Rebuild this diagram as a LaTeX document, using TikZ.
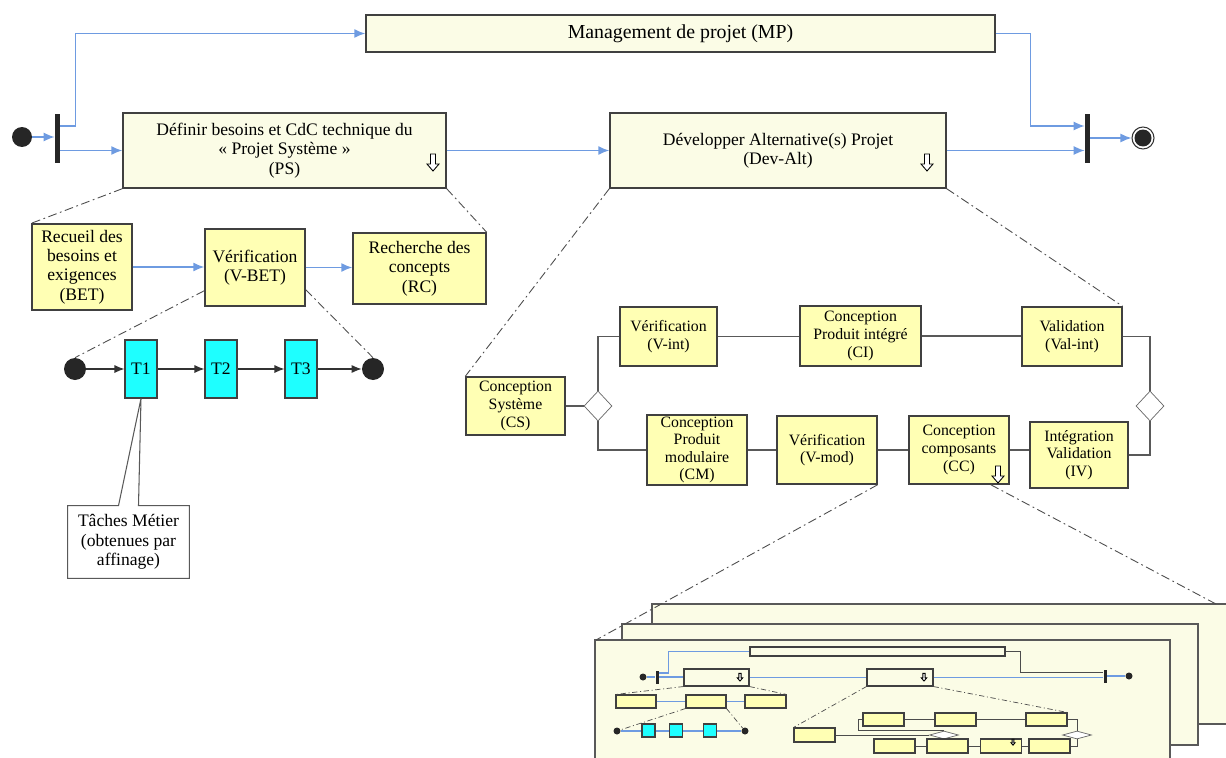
\documentclass[tikz,border=0pt]{standalone}
\usepackage{fontspec}
\setmainfont{Liberation Serif}
\usetikzlibrary{arrows.meta,shapes.geometric}
\definecolor{cream}{HTML}{FBFCE6}
\definecolor{paleyel}{HTML}{FFFFB4}
\definecolor{taskcyan}{HTML}{1EFFFF}
\definecolor{flowblue}{HTML}{6E9BE1}
\begin{document}
\begin{tikzpicture}[x=0.02cm, y=-0.02cm,
    sz/.style 2 args={minimum width=#1*0.02cm, minimum height=#2*0.02cm},
    txt/.style={align=center, inner sep=1pt, font=\fontsize{10}{11}\selectfont},
    small/.style={font=\fontsize{9}{10}\selectfont},
    big/.style={txt, draw=black!75, fill=cream, line width=0.8pt},
    act/.style={txt, draw=black!75, fill=paleyel, line width=0.8pt},
    task/.style={txt, draw=black!75, fill=taskcyan, line width=0.6pt, sz={32}{58}},
    bar/.style={fill=black!85, inner sep=0pt},
    dot/.style={circle, fill=black!85, inner sep=0pt, minimum size=0.42cm},
    choice/.style={diamond, draw=black!60, fill=white, inner sep=0pt, sz={28}{30}},
    flow/.style={draw=flowblue, line width=0.8pt, -{Latex[length=2.2mm, width=1.8mm]}},
    seq/.style={draw=black!80, line width=0.6pt, -{Latex[length=2mm, width=1.6mm]}},
    link/.style={draw=black!65, line width=0.6pt},
    zoomline/.style={draw=black!70, line width=0.5pt, dash pattern=on 5pt off 2pt on 1pt off 2pt},
    mini/.style={draw=black!75, line width=0.6pt, inner sep=0pt},
    mflow/.style={draw=flowblue, line width=0.6pt},
    mlink/.style={draw=black!70, line width=0.5pt},
    mzoom/.style={draw=black!70, line width=0.4pt, dash pattern=on 3pt off 1.5pt on 0.6pt off 1.5pt},
    dnarrow/.pic={\draw[fill=white, line width=0.5pt] (-2.5,-8) -- (2.5,-8) -- (2.5,2) -- (6,2) -- (0,9) -- (-6,2) -- (-2.5,2) -- cycle;}
  ]
  \useasboundingbox (0,0) rectangle (1226,757);
  \clip (0,0) rectangle (1226,757);

  \node[dot, minimum size=0.4cm] (st) at (22,137) {};
  \node[bar, sz={5}{49}] (b1) at (57.5,138.5) {};
  \node[big, sz={629}{37}, font=\fontsize{11.3}{12}\selectfont] (MP) at (680.5,33.5) {Management de projet (MP)};
  \node[big, sz={323}{75}] (PS) at (284.5,150.5) {Définir besoins et CdC technique du\\« Projet Système »\\(PS)};
  \node[big, sz={336}{75}] (Dev) at (778,150.5) {Développer Alternative(s) Projet\\(Dev-Alt)};
  \node[bar, sz={5}{49}] (b2) at (1087.5,138.5) {};
  \node[circle, draw=black!80, line width=0.6pt, minimum size=0.44cm, inner sep=0pt] (en) at (1143,138) {};
  \node[dot, minimum size=0.34cm] at (en) {};
  \pic at (433,162) {dnarrow};
  \pic at (927,162) {dnarrow};

  \draw[flow] (st.east) -- (st.east -| b1.west);
  \draw[flow] (b1.east |- PS) -- (PS.west);
  \draw[flow] ([yshift=0.25cm]b1.east) -- ++(15,0) |- (MP.west);
  \draw[flow] (PS.east) -- (Dev.west);
  \draw[flow] (Dev.east) -- (Dev.east -| b2.west);
  \draw[flow] (MP.east) -- ++(35,0) |- ([yshift=0.25cm]b2.west);
  \draw[flow] (b2.east |- en) -- (en.west);

  \node[act, sz={100}{86}] (BET) at (82,267) {Recueil des\\besoins et\\exigences\\(BET)};
  \node[act, sz={100}{77}] (VBET) at (255,267.5) {Vérification\\(V-BET)};
  \node[act, sz={133}{71}] (RC) at (419.5,268.5) {Recherche des\\concepts\\(RC)};
  \draw[flow] (BET.east) -- (BET.east -| VBET.west);
  \draw[flow] (VBET.east) -- (VBET.east -| RC.west);
  \draw[zoomline] (PS.south west) -- (BET.north west);
  \draw[zoomline] (PS.south east) -- (RC.north east);

  \node[dot, minimum size=0.44cm] (s1) at (75,369) {};
  \node[task] (T1) at (141,369) {T1};
  \node[task] (T2) at (221,369) {T2};
  \node[task] (T3) at (301,369) {T3};
  \node[dot, minimum size=0.44cm] (e1) at (373,369) {};
  \draw[seq] (s1) -- (T1);
  \draw[seq] (T1) -- (T2);
  \draw[seq] (T2) -- (T3);
  \draw[seq] (T3) -- (e1);
  \draw[zoomline] ([yshift=0.32cm]VBET.south west) -- (s1.north);
  \draw[zoomline] ([yshift=0.34cm]VBET.south east) -- (e1.north);

  \node[txt, sz={121}{72}] (note) at (128.5,542) {Tâches Métier\\(obtenues par\\affinage)};
  \draw[link] (note.north west) -- ([xshift=-0.2cm]note.north) -- (T1.south) -- ([xshift=0.2cm]note.north) -- (note.north east) -- (note.south east) -- (note.south west) -- cycle;

  \node[act, small, sz={99}{58}] (CS) at (515.5,406) {Conception\\Système\\(CS)};
  \node[choice] (dL) at (598,406) {};
  \node[choice] (dR) at (1150,406) {};
  \node[act, small, sz={97}{59}] (Vint) at (668.5,336.5) {Vérification\\(V-int)};
  \node[act, small, sz={121}{60}] (CI) at (860.5,336) {Conception\\Produit intégré\\(CI)};
  \node[act, small, sz={100}{59}] (Valint) at (1072,336.5) {Validation\\(Val-int)};
  \node[act, small, sz={100}{68}] (CM) at (697,450) {Conception\\Produit\\modulaire\\(CM)};
  \node[act, small, sz={100}{68}] (Vmod) at (827,450) {Vérification\\(V-mod)};
  \node[act, small, sz={100}{68}] (CC) at (959,450) {Conception\\composants\\(CC)};
  \node[act, small, sz={98}{66}] (IV) at (1079,455) {Intégration\\Validation\\(IV)};
  \pic at (998,474) {dnarrow};

  \draw[link] (CS.east) -- (dL.west);
  \draw[link] (dL.north) |- (Vint.west);
  \draw[link] (Vint.east) -- (Vint.east -| CI.west);
  \draw[link] (CI.east) -- (CI.east -| Valint.west);
  \draw[link] (Valint.east) -| (dR.north);
  \draw[link] (dL.south) |- (CM.west);
  \draw[link] (CM) -- (Vmod);
  \draw[link] (Vmod) -- (CC);
  \draw[link] (CC.east) -- (CC.east -| IV.west);
  \draw[link] (IV.east) -| (dR.south);
  \draw[zoomline] (Dev.south west) -- (CS.north west);
  \draw[zoomline] (Dev.south east) -- (Valint.north east);

  \fill[cream] (652,604) rectangle (1226,724);
  \draw[link] (1226,604) -| (652,724) -- (1226,724);
  \fill[cream] (622,624) rectangle (1198,745);
  \draw[link] (622,624) rectangle (1198,745);
  \fill[cream] (595,640) rectangle (1170,770);
  \draw[link] (595,770) |- (1170,640) -- (1170,770);
  \coordinate (fc) at (596,640);
  \coordinate (bc) at (1216,604);
  \draw[zoomline] (Vmod.south east) -- (fc);
  \draw[zoomline] ([xshift=-0.38cm]CC.south east) -- (bc);

  \node[mini, fill=cream, sz={255}{9}] (mMP) at (877.5,651.5) {};
  \node[dot, minimum size=0.14cm] (ms) at (643,677) {};
  \node[bar, sz={3}{13}] (mb1) at (657,677) {};
  \node[mini, fill=cream, sz={65}{17}] (mPS) at (716.5,677.5) {};
  \node[mini, fill=cream, sz={66}{17}] (mDev) at (900,677.5) {};
  \node[bar, sz={3}{13}] (mb2) at (1105,676) {};
  \node[dot, minimum size=0.14cm] (me) at (1129,676) {};
  \pic[scale=0.45] at (740,677) {dnarrow};
  \pic[scale=0.45] at (924,677) {dnarrow};
  \draw[mflow] (ms) -- (mb1);
  \draw[mflow] (mb1.east) -- (mb1.east -| mPS.west);
  \draw[mflow] ([yshift=0.08cm]mb1.east) -- ++(10,0) |- (mMP.west);
  \draw[mflow] (mPS.east) -- (mPS.east -| mDev.west);
  \draw[mflow] (mDev.east) -- (mDev.east -| mb2.west);
  \draw[mflow] (mb2) -- (me);
  \draw[mlink] (mMP.east) -- ++(15,0) |- ([yshift=0.08cm]mb2.west);

  \node[mini, fill=paleyel, sz={40}{13}] (mBET) at (636,701.5) {};
  \node[mini, fill=paleyel, sz={40}{13}] (mVBET) at (706,701.5) {};
  \node[mini, fill=paleyel, sz={41}{13}] (mRC) at (765.5,701.5) {};
  \draw[mflow] (mBET) -- (mVBET) -- (mRC);
  \draw[mzoom] (mPS.south west) -- (mBET.north west);
  \draw[mzoom] (mPS.south east) -- (mRC.north east);
  \node[dot, minimum size=0.14cm] (ms1) at (617,731) {};
  \node[dot, minimum size=0.14cm] (me1) at (745,731) {};
  \draw[mflow] (ms1) -- (me1);
  \node[mini, fill=taskcyan, sz={13}{13}] (mT1) at (648.5,730.5) {};
  \node[mini, fill=taskcyan, sz={13}{13}] (mT2) at (676,730.5) {};
  \node[mini, fill=taskcyan, sz={13}{13}] (mT3) at (710,730.5) {};
  \draw[mzoom] (mVBET.south west) -- (ms1);
  \draw[mzoom] (mVBET.south east) -- (me1);

  \node[mini, fill=paleyel, sz={41}{14}] (mCS) at (814.5,735) {};
  \node[mini, fill=paleyel, sz={41}{13}] (mVint) at (883.5,719.5) {};
  \node[mini, fill=paleyel, sz={41}{13}] (mCI) at (955.5,719.5) {};
  \node[mini, fill=paleyel, sz={41}{13}] (mVal) at (1046.5,719.5) {};
  \node[choice, sz={29}{8}] (mdL) at (944,735) {};
  \node[choice, sz={29}{8}] (mdR) at (1077,735) {};
  \node[mini, fill=paleyel, sz={41}{14}] (mB1) at (894.5,746) {};
  \node[mini, fill=paleyel, sz={41}{14}] (mB2) at (947.5,746) {};
  \node[mini, fill=paleyel, sz={41}{14}] (mB3) at (1001,746) {};
  \node[mini, fill=paleyel, sz={41}{14}] (mB4) at (1049.5,746) {};
  \pic[scale=0.35] at (1013,742) {dnarrow};
  \draw[mlink] (mCS.east) -- (mdL.west);
  \draw[mlink] (mVint.west) -- ++(-4,0) |- (mdL.north);
  \draw[mlink] (mVint) -- (mCI) -- (mVal);
  \draw[mlink] (mVal.east) -| (mdR.north);
  \draw[mlink] (mB1) -- (mB2) -- (mB3) -- (mB4);
  \draw[mlink] (mB4.east) -| (mdR.south);
  \draw[mzoom] (mDev.south west) -- (mCS.north west);
  \draw[mzoom] (mDev.south east) -- (mVal.north east);
\end{tikzpicture}
\end{document}
